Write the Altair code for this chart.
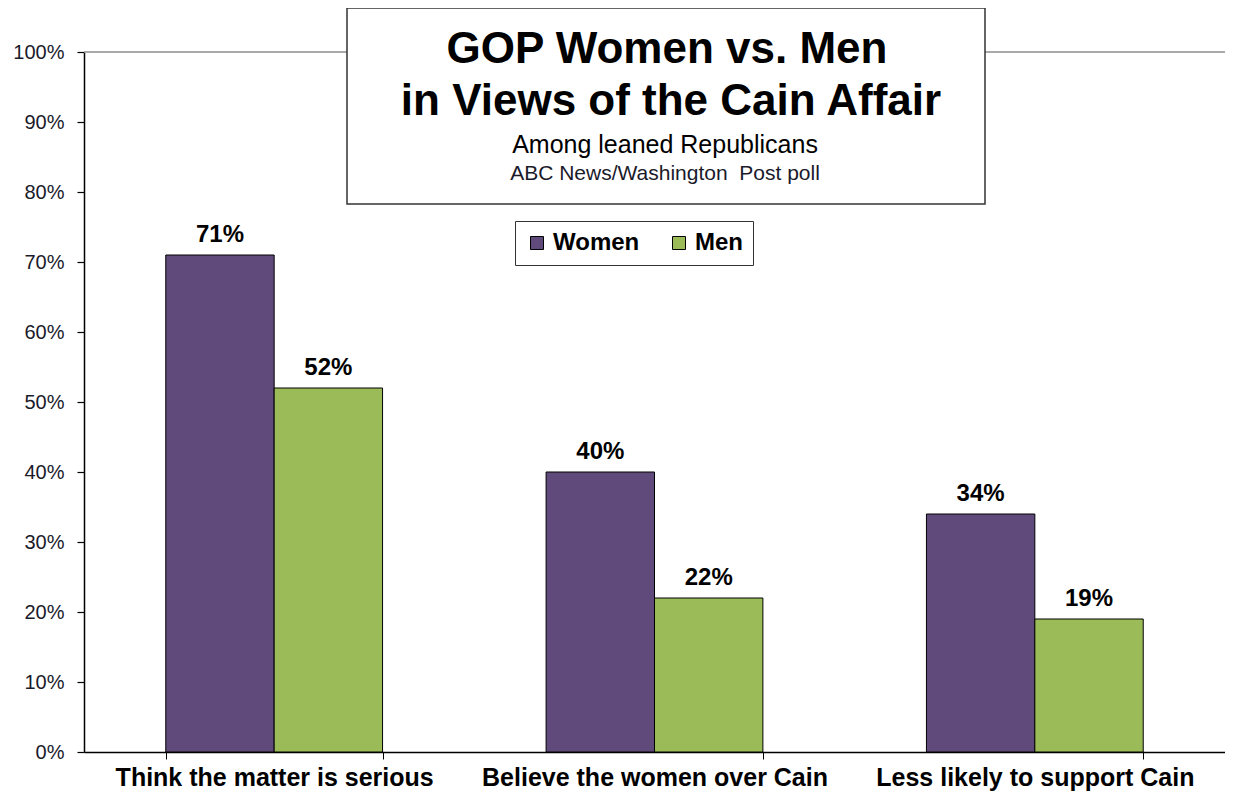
import altair as alt
import pandas as pd

categories = ["Think the matter is serious", "Believe the women over Cain", "Less likely to support Cain"]
groups = ["Women", "Men"]
women = [71, 40, 34]
men = [52, 22, 19]
colors = ["#604A7B", "#9BBB59"]
y_ticks = [0, 10, 20, 30, 40, 50, 60, 70, 80, 90, 100]

title_line1 = "GOP Women vs. Men"
title_line2 = "in Views of the Cain Affair"
subtitle = "Among leaned Republicans"
source = "ABC News/Washington\u00a0 Post poll"

FONT = "Liberation Sans"

rows = []
for c, w, m in zip(categories, women, men):
    rows.append({"category": c, "group": "Women", "value": w})
    rows.append({"category": c, "group": "Men", "value": m})
df = pd.DataFrame(rows)
df["label"] = df["value"].astype(str) + "%"

x_enc = alt.X(
    "category:N",
    sort=categories,
    scale=alt.Scale(paddingInner=0.43, paddingOuter=0.215),
    axis=alt.Axis(
        title=None, labelAngle=0, labelFont=FONT, labelFontSize=25, labelFontWeight="bold",
        labelColor="black", labelLimit=0, tickBand="extent", tickSize=7, tickColor="black",
        tickWidth=1, domainColor="black", domainWidth=1.5, labelPadding=6, grid=False,
    ),
)
y_enc = alt.Y(
    "value:Q",
    scale=alt.Scale(domain=[0, 100], nice=False),
    axis=alt.Axis(
        title=None, values=y_ticks, labelExpr="datum.value + '%'", labelFont=FONT,
        labelFontSize=20, labelColor="#1a1a2a", tickSize=7, tickColor="black", tickWidth=1.2,
        domainColor="black", domainWidth=1.5, labelPadding=13, grid=False,
    ),
)
xoff = alt.XOffset("group:N", sort=groups, scale=alt.Scale(paddingInner=0))

base = alt.Chart(df).encode(x=x_enc, xOffset=xoff, y=y_enc)

bars = base.mark_bar(stroke="black", strokeWidth=1).encode(
    color=alt.Color(
        "group:N",
        sort=groups,
        scale=alt.Scale(domain=groups, range=colors),
        legend=alt.Legend(
            title=None, orient="none", legendX=431, legendY=169, direction="horizontal",
            strokeColor="#333", fillColor="white", padding=10, symbolType="square",
            symbolSize=169, symbolStrokeColor="black", symbolStrokeWidth=1,
            labelFont=FONT, labelFontSize=24, labelFontWeight="bold", labelColor="black",
            columnPadding=27, labelOffset=4,
        ),
    )
)

value_labels = base.mark_text(
    dy=-13, baseline="alphabetic", font=FONT, fontSize=24, fontWeight="bold", color="black"
).encode(text="label:N")

top_rule = alt.Chart(pd.DataFrame({"value": [100]})).mark_rule(
    color="#8c8c8c", strokeWidth=1.5
).encode(y=alt.Y("value:Q"))

one = pd.DataFrame({"k": [0]})
title_box = alt.Chart(one).mark_rect(
    fill="white", stroke="#333", strokeWidth=1.5
).encode(x=alt.value(263), x2=alt.value(901), y=alt.value(-44), y2=alt.value(152))

def text_line(txt, xv, yv, size, weight, color="black"):
    return alt.Chart(pd.DataFrame({"t": [txt]})).mark_text(
        font=FONT, fontSize=size, fontWeight=weight, color=color,
        align="center", baseline="alphabetic",
    ).encode(x=alt.value(xv), y=alt.value(yv), text="t:N")

t1 = text_line(title_line1, 583, 11, 44, "bold")
t2 = text_line(title_line2, 587, 63, 44, "bold")
t3 = text_line(subtitle, 581, 101, 25, "normal")
t4 = text_line(source, 581, 128, 21, "normal", "#1a1a2a")

chart = alt.layer(top_rule, title_box, t1, t2, t3, t4, bars, value_labels).properties(
    width=1141, height=700,
    autosize="none",
    padding={"left": 76, "top": 44, "right": 0, "bottom": 41},
    background="white",
).configure_view(stroke=None)

chart.save("out.html", embed_options={"renderer": "svg", "actions": False})
